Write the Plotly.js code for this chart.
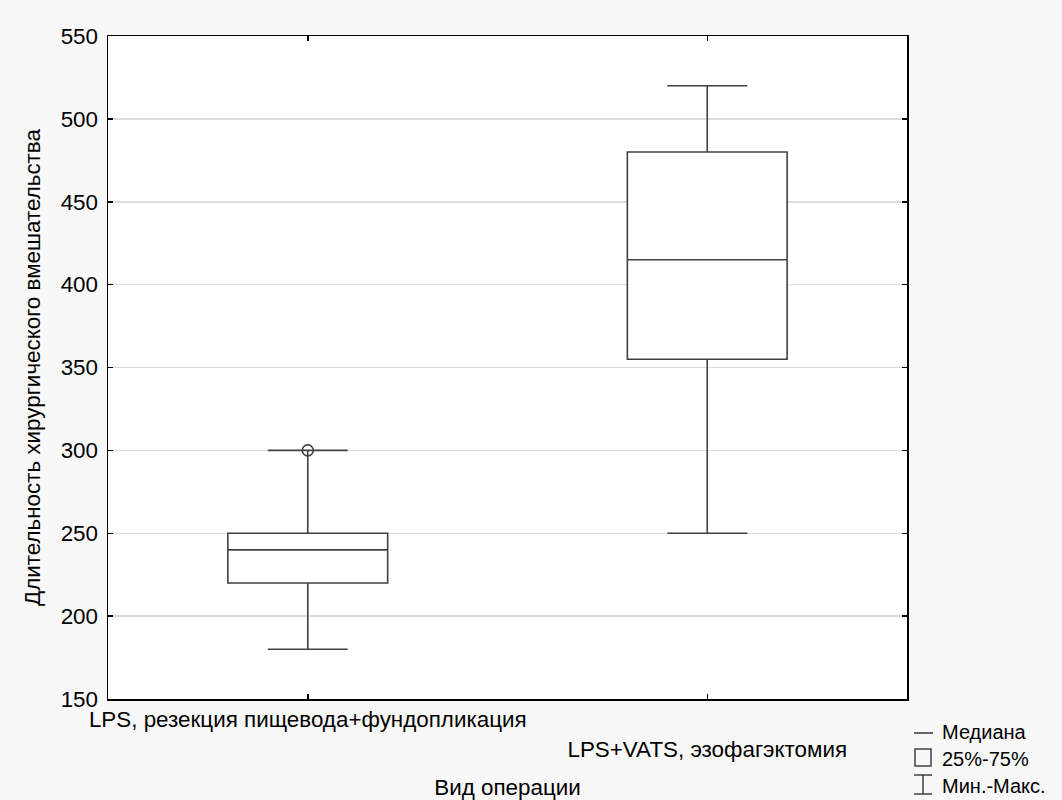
<!DOCTYPE html>
<html>
<head>
<meta charset="utf-8">
<script src="https://cdn.plot.ly/plotly-3.0.1.min.js"></script>
<style>html,body{margin:0;padding:0;background:#f8f8f8;}</style>
</head>
<body>
<div id="chart" style="width:1062px;height:800px;"></div>
<script>
const categories = ["LPS, резекция пищевода+фундопликация", "LPS+VATS, эзофагэктомия"];
const tickLabels = ["LPS, резекция пищевода+фундопликация", "<br>LPS+VATS, эзофагэктомия"];
const minValues = [180, 250];
const q1Values = [220, 355];
const medianValues = [240, 415];
const q3Values = [250, 480];
const maxValues = [300, 520];
const outlierCategory = [0];
const outlierValues = [300];
const legendLabels = ["Медиана", "25%-75%", "Мин.-Макс."];

const FONT = "'Liberation Sans', Arial, sans-serif";
const FS = 22.4;
const LFS = 20;
const LC = "#404040";
const xIdx = categories.map((c, i) => i);

const traces = [
  {
    type: "box",
    x: xIdx,
    q1: q1Values,
    median: medianValues,
    q3: q3Values,
    lowerfence: minValues,
    upperfence: maxValues,
    width: 0.4,
    whiskerwidth: 0.5,
    fillcolor: "#ffffff",
    line: {color: LC, width: 1.6},
    boxpoints: false,
    hoverinfo: "skip",
    showlegend: false
  },
  {
    type: "scatter",
    mode: "markers",
    x: outlierCategory,
    y: outlierValues,
    marker: {symbol: "circle-open", size: 11, color: LC, line: {width: 1.6, color: LC}},
    showlegend: false,
    hoverinfo: "skip"
  }
];

const L = 108, R = 907, T = 36, B = 699;
const px = v => (v - L) / (R - L);
const py = v => (B - v) / (B - T);
const shapes = [
  {type: "line", xref: "paper", yref: "paper", x0: px(914), x1: px(933), y0: py(733), y1: py(733), line: {color: LC, width: 1.6}},
  {type: "rect", xref: "paper", yref: "paper", x0: px(915), x1: px(931), y0: py(749), y1: py(766), line: {color: LC, width: 1.5}, fillcolor: "rgba(0,0,0,0)"},
  {type: "line", xref: "paper", yref: "paper", x0: px(923), x1: px(923), y0: py(775), y1: py(794), line: {color: LC, width: 1.5}},
  {type: "line", xref: "paper", yref: "paper", x0: px(914), x1: px(932), y0: py(775), y1: py(775), line: {color: LC, width: 1.5}},
  {type: "line", xref: "paper", yref: "paper", x0: px(914), x1: px(932), y0: py(794), y1: py(794), line: {color: LC, width: 1.5}}
];
const legendY = [732, 759, 786];
const annotations = legendLabels.map((t, i) => ({
  xref: "paper", yref: "paper", x: px(940), y: py(legendY[i]),
  xanchor: "left", yanchor: "middle", text: t, showarrow: false,
  font: {family: FONT, size: LFS, color: "#000"}
}));

const layout = {
  width: 1062, height: 800,
  margin: {l: 108, r: 155, t: 36, b: 101},
  paper_bgcolor: "#f8f8f8",
  plot_bgcolor: "#ffffff",
  font: {family: FONT, size: FS, color: "#000"},
  showlegend: false,
  xaxis: {
    range: [-0.5, 1.5],
    tickvals: xIdx,
    ticktext: tickLabels,
    ticks: "inside", ticklen: 5, tickwidth: 1.5, tickcolor: "#000",
    showline: true, linecolor: "#000", linewidth: 1.5, mirror: "ticks",
    showgrid: false, zeroline: false,
    title: {text: "Вид операции", font: {family: FONT, size: FS}, standoff: 20},
    tickfont: {family: FONT, size: FS}
  },
  yaxis: {
    range: [150, 550],
    tickvals: [150, 200, 250, 300, 350, 400, 450, 500, 550],
    ticks: "inside", ticklen: 5, tickwidth: 1.5, tickcolor: "#000",
    ticklabelstandoff: 4,
    showline: true, linecolor: "#000", linewidth: 1.5, mirror: "ticks",
    showgrid: true, gridcolor: "#dcdcdc", gridwidth: 1.5, zeroline: false,
    title: {text: "Длительность хирургического вмешательства", font: {family: FONT, size: FS}, standoff: 14},
    tickfont: {family: FONT, size: FS}
  },
  shapes: shapes,
  annotations: annotations
};

Plotly.newPlot("chart", traces, layout, {displayModeBar: false, staticPlot: true});
</script>
</body>
</html>
